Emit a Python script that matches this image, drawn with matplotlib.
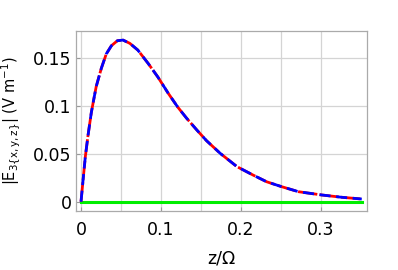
import matplotlib
matplotlib.use("Agg")
import matplotlib.pyplot as plt

# values
z_vals = [0.0, 0.0025, 0.0054, 0.00875, 0.0129, 0.0158, 0.019, 0.0254, 0.0316, 0.038,
          0.0454, 0.0525, 0.061, 0.071, 0.084, 0.096, 0.109, 0.121, 0.132, 0.145,
          0.157, 0.174, 0.195, 0.215, 0.232, 0.251, 0.272, 0.301, 0.326, 0.351]
e_vals = [0.0, 0.022, 0.047, 0.069, 0.093, 0.106, 0.12, 0.139, 0.154, 0.1625,
          0.1677, 0.1684, 0.165, 0.158, 0.144, 0.130, 0.113, 0.0985, 0.087, 0.0745,
          0.0635, 0.0504, 0.0365, 0.0278, 0.0208, 0.0156, 0.0104, 0.007, 0.0046, 0.0028]
z_zero = [0.0, 0.351]
e_zero = [0.0, 0.0]

x_ticks = [0, 0.1, 0.2, 0.3]
x_tick_labels = ["0", "0.1", "0.2", "0.3"]
x_grid = [0, 0.05, 0.1, 0.15, 0.2, 0.25, 0.3]
y_ticks = [0, 0.05, 0.1, 0.15]
y_tick_labels = ["0", "0.05", "0.1", "0.15"]

plt.rcParams['font.family'] = ['DejaVu Sans']

fig = plt.figure(figsize=(3.98, 2.70), dpi=100)
ax = fig.add_axes([0.191, 0.2185, 0.731, 0.6665])

# light grid like the reference
for g in x_grid:
    ax.axvline(g, color='#d4d4d4', lw=0.9, zorder=0)
for g in y_ticks[1:]:
    ax.axhline(g, color='#d4d4d4', lw=0.9, zorder=0)

ax.plot(z_zero, e_zero, color='#00ee00', lw=2.2, zorder=2)
ax.plot(z_vals, e_vals, color='red', lw=2.0, dashes=(7, 0.8), zorder=3)
ax.plot(z_vals, e_vals, color='blue', lw=2.0, dashes=(4, 2), zorder=4)

ax.set_xlim(-0.00625, 0.3575)
ax.set_ylim(-0.0097, 0.1778)
ax.set_xticks(x_ticks)
ax.set_xticklabels(x_tick_labels)
ax.set_yticks(y_ticks)
ax.set_yticklabels(y_tick_labels)
ax.tick_params(direction='in', length=3, color='#999999', labelsize=12.5)
ax.tick_params(axis='x', pad=7)
ax.tick_params(axis='y', pad=3)

for s in ax.spines.values():
    s.set_color('#aaaaaa')
    s.set_linewidth(0.9)

ax.set_xlabel("z/\u03a9", fontsize=12.5, labelpad=8)
ax.set_ylabel("|E$_{\\mathregular{3\\{x,y,z\\}}}$| (V m$^{\\mathregular{-1}}$)",
              fontsize=10.5, labelpad=8)

fig.savefig("out.png", dpi=100)
